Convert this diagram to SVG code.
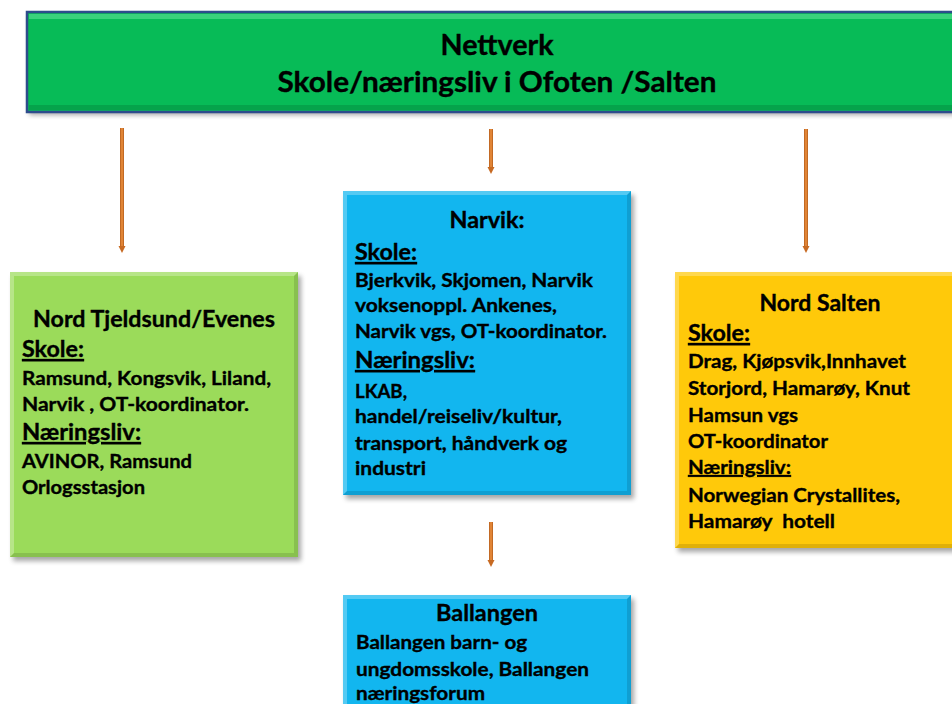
<svg xmlns="http://www.w3.org/2000/svg" width="952" height="704" viewBox="0 0 952 704">
<defs>
<style>
text{font-family:Lato,"Open Sans","Liberation Sans",sans-serif;font-weight:bold;fill:#000;stroke:#000;stroke-width:0.35px}
.title{font-size:28px;text-anchor:middle}
.head{font-size:22px}
.hc{font-size:22px;text-anchor:middle}
.body{font-size:19px}
.ul{text-decoration:underline}
.shaft{fill:url(#arrG)}
.tip{fill:#C76A22}
.bevL{fill:#ffffff;opacity:0.28}
.bevD{fill:#000000;opacity:0.12}
</style>
<filter id="sh" x="-10%" y="-10%" width="130%" height="130%">
<feGaussianBlur stdDeviation="2.5"/>
</filter>
<linearGradient id="arrG" x1="0" y1="0" x2="1" y2="0">
<stop offset="0" stop-color="#B35C1B"/>
<stop offset="0.5" stop-color="#F0923F"/>
<stop offset="1" stop-color="#B35C1B"/>
</linearGradient>
</defs>

<g id="banner">
<rect x="29" y="15" width="930" height="100" fill="#000" opacity="0.35" filter="url(#sh)"/>
<rect x="27" y="12" width="940" height="100" fill="#07BB57" stroke="#2D4C8C" stroke-width="2.5"/>
<rect x="29" y="14" width="936" height="5" fill="#46D886" opacity="0.8"/>
<rect x="29" y="105" width="936" height="5" fill="#059E49" opacity="0.8"/>
<text class="title" x="497" y="55" textLength="113" lengthAdjust="spacingAndGlyphs">Nettverk</text>
<text class="title" x="497" y="92" textLength="439" lengthAdjust="spacingAndGlyphs">Skole/næringsliv i Ofoten /Salten</text>
</g>

<g id="connectors">
<rect class="shaft" x="120" y="128" width="4" height="119"/>
<path class="tip" d="M118.5,246 H125.5 L122,253 Z"/>
<rect class="shaft" x="489" y="129" width="4" height="39"/>
<path class="tip" d="M487.5,167 H494.5 L491,174 Z"/>
<rect class="shaft" x="804" y="129" width="4" height="118"/>
<path class="tip" d="M802.5,246 H809.5 L806,253 Z"/>
<rect class="shaft" x="489" y="522" width="4" height="39"/>
<path class="tip" d="M487.5,560 H494.5 L491,567 Z"/>
</g>

<g id="nord-tjeldsund">
<rect x="13" y="276" width="288" height="285" fill="#000" opacity="0.35" filter="url(#sh)"/>
<rect x="10" y="272" width="288" height="285" fill="#9BDB5A"/>
<path d="M10,272 H298 L294,276 H14 V553 L10,557 Z" class="bevL"/>
<path d="M298,272 V557 H10 L14,553 H294 V276 Z" class="bevD"/>
<text class="head" x="33" y="327" textLength="242" lengthAdjust="spacingAndGlyphs">Nord Tjeldsund/Evenes</text>
<text class="head ul" x="22" y="357" textLength="62" lengthAdjust="spacingAndGlyphs">Skole:</text>
<text class="body" x="22" y="385" textLength="249" lengthAdjust="spacingAndGlyphs">Ramsund, Kongsvik, Liland,</text>
<text class="body" x="22" y="411" textLength="227" lengthAdjust="spacingAndGlyphs">Narvik , OT-koordinator.</text>
<text class="head ul" x="22" y="440" textLength="119" lengthAdjust="spacingAndGlyphs">Næringsliv:</text>
<text class="body" x="22" y="468" textLength="170" lengthAdjust="spacingAndGlyphs">AVINOR, Ramsund</text>
<text class="body" x="22" y="494" textLength="123" lengthAdjust="spacingAndGlyphs">Orlogsstasjon</text>
</g>

<g id="narvik">
<rect x="346" y="195" width="288" height="304" fill="#000" opacity="0.35" filter="url(#sh)"/>
<rect x="343" y="191" width="288" height="304" fill="#12B6EF"/>
<path d="M343,191 H631 L627,195 H347 V491 L343,495 Z" class="bevL"/>
<path d="M631,191 V495 H343 L347,491 H627 V195 Z" class="bevD"/>
<text class="hc" x="487" y="228" textLength="75" lengthAdjust="spacingAndGlyphs">Narvik:</text>
<text class="head ul" x="355" y="260" textLength="62" lengthAdjust="spacingAndGlyphs">Skole:</text>
<text class="body" x="355" y="287" textLength="238" lengthAdjust="spacingAndGlyphs">Bjerkvik, Skjomen, Narvik</text>
<text class="body" x="355" y="312" textLength="202" lengthAdjust="spacingAndGlyphs">voksenoppl. Ankenes,</text>
<text class="body" x="355" y="338" textLength="252" lengthAdjust="spacingAndGlyphs">Narvik vgs, OT-koordinator.</text>
<text class="head ul" x="355" y="368" textLength="120" lengthAdjust="spacingAndGlyphs">Næringsliv:</text>
<text class="body" x="355" y="398" textLength="52" lengthAdjust="spacingAndGlyphs">LKAB,</text>
<text class="body" x="355" y="423" textLength="207" lengthAdjust="spacingAndGlyphs">handel/reiseliv/kultur,</text>
<text class="body" x="355" y="450" textLength="212" lengthAdjust="spacingAndGlyphs">transport, håndverk og</text>
<text class="body" x="355" y="475" textLength="71" lengthAdjust="spacingAndGlyphs">industri</text>
</g>

<g id="nord-salten">
<rect x="678" y="276" width="290" height="276" fill="#000" opacity="0.35" filter="url(#sh)"/>
<rect x="675" y="272" width="290" height="276" fill="#FFC90A"/>
<path d="M675,272 H965 L961,276 H679 V544 L675,548 Z" class="bevL"/>
<path d="M965,272 V548 H675 L679,544 H961 V276 Z" class="bevD"/>
<text class="hc" x="820" y="311" textLength="121" lengthAdjust="spacingAndGlyphs">Nord Salten</text>
<text class="head ul" x="688" y="341" textLength="62" lengthAdjust="spacingAndGlyphs">Skole:</text>
<text class="body" x="688" y="368" textLength="218" lengthAdjust="spacingAndGlyphs">Drag, Kjøpsvik,Innhavet</text>
<text class="body" x="688" y="395" textLength="222" lengthAdjust="spacingAndGlyphs">Storjord, Hamarøy, Knut</text>
<text class="body" x="688" y="422" textLength="110" lengthAdjust="spacingAndGlyphs">Hamsun vgs</text>
<text class="body" x="688" y="448" textLength="140" lengthAdjust="spacingAndGlyphs">OT-koordinator</text>
<text class="body ul" x="688" y="474" textLength="103" lengthAdjust="spacingAndGlyphs">Næringsliv:</text>
<text class="body" x="688" y="502" textLength="212" lengthAdjust="spacingAndGlyphs">Norwegian Crystallites,</text>
<text class="body" x="688" y="528" textLength="147" lengthAdjust="spacingAndGlyphs" xml:space="preserve">Hamarøy  hotell</text>
</g>

<g id="ballangen">
<rect x="346" y="599" width="288" height="120" fill="#000" opacity="0.35" filter="url(#sh)"/>
<rect x="343" y="595" width="288" height="120" fill="#12B6EF"/>
<path d="M343,595 H631 L627,599 H347 V715 L343,715 Z" class="bevL"/>
<path d="M631,595 V715 H627 V599 Z" class="bevD"/>
<text class="hc" x="487" y="621" textLength="102" lengthAdjust="spacingAndGlyphs">Ballangen</text>
<text class="body" x="356" y="649" textLength="171" lengthAdjust="spacingAndGlyphs">Ballangen barn- og</text>
<text class="body" x="356" y="676" textLength="233" lengthAdjust="spacingAndGlyphs">ungdomsskole, Ballangen</text>
<text class="body" x="356" y="700" textLength="129" lengthAdjust="spacingAndGlyphs">næringsforum</text>
</g>
</svg>
